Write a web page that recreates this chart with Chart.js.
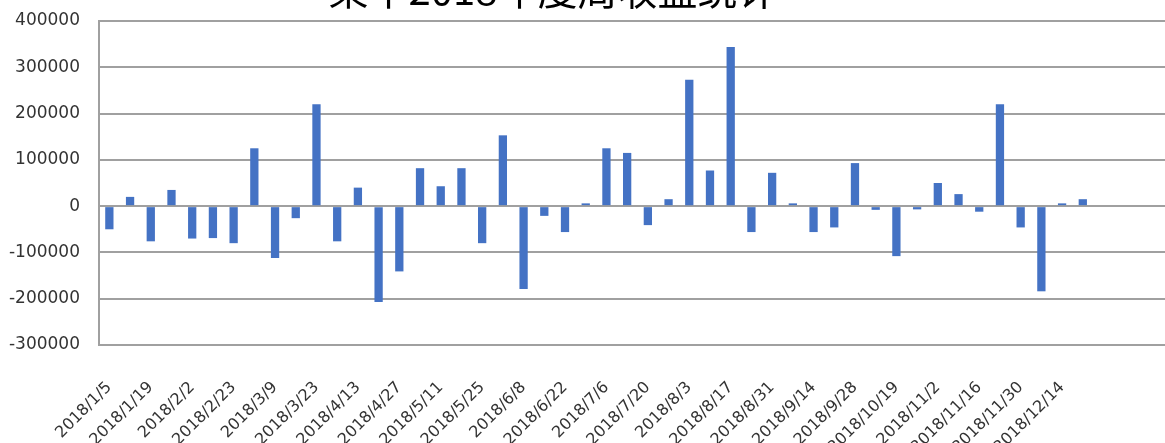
<!DOCTYPE html>
<html>
<head>
<meta charset="utf-8">
<script src="https://cdn.jsdelivr.net/npm/chart.js@4"></script>
<style>
  html, body { margin: 0; padding: 0; background: #fff; overflow: hidden; }
  #wrap { position: relative; width: 1176px; height: 443px; }
</style>
</head>
<body>
<div id="wrap"><canvas id="weeklyChart"></canvas></div>
<script>
// 周收益数据 (2018)
const weeks = [
    "2018/1/5", "2018/1/12", "2018/1/19", "2018/1/26", "2018/2/2", "2018/2/9",
    "2018/2/23", "2018/3/2", "2018/3/9", "2018/3/16", "2018/3/23", "2018/3/30",
    "2018/4/13", "2018/4/20", "2018/4/27", "2018/5/4", "2018/5/11", "2018/5/18",
    "2018/5/25", "2018/6/1", "2018/6/8", "2018/6/15", "2018/6/22", "2018/6/29",
    "2018/7/6", "2018/7/13", "2018/7/20", "2018/7/27", "2018/8/3", "2018/8/10",
    "2018/8/17", "2018/8/24", "2018/8/31", "2018/9/7", "2018/9/14", "2018/9/21",
    "2018/9/28", "2018/10/12", "2018/10/19", "2018/10/26", "2018/11/2", "2018/11/9",
    "2018/11/16", "2018/11/23", "2018/11/30", "2018/12/7", "2018/12/14", "2018/12/21",
    "", "", "", ""
];
const weeklyProfit = [
    -50000, 20000, -76000, 35000, -70000, -69000,
    -80000, 125000, -112000, -26000, 220000, -76000,
    40000, -207000, -141000, 82000, 43000, 82000,
    -80000, 153000, -179000, -21000, -56000, 6000,
    125000, 115000, -41000, 15000, 273000, 77000,
    344000, -56000, 72000, 6000, -56000, -46000,
    93000, -8000, -108000, -7000, 50000, 26000,
    -12000, 220000, -46000, -184000, 6000, 15000,
    null, null, null, null
];
const yTicks = [-300000, -200000, -100000, 0, 100000, 200000, 300000, 400000];
const chartTitle = "某甲2018年度周收益统计";

// titre coupé en haut, comme dans l'image
const titlePlugin = {
    id: "cutTitle",
    afterDraw(chart) {
        const ctx = chart.ctx;
        ctx.save();
        ctx.font = '40px "Noto Sans CJK SC"';
        ctx.fillStyle = "#000";
        ctx.textAlign = "center";
        ctx.textBaseline = "alphabetic";
        ctx.fillText(chartTitle, 553, 5);
        ctx.restore();
    }
};

// pas de marge automatique autour des axes
function noPadding(scale) {
    scale.paddingLeft = 0;
    scale.paddingRight = 0;
    scale.paddingTop = 0;
    scale.paddingBottom = 0;
}

const ctx = document.getElementById("weeklyChart").getContext("2d");
new Chart(ctx, {
    type: "bar",
    data: {
        labels: weeks,
        datasets: [{
            label: "周收益",
            data: weeklyProfit,
            backgroundColor: "#4472C4",
            barPercentage: 0.4,
            categoryPercentage: 1.0,
        }],
    },
    options: {
        responsive: true,
        maintainAspectRatio: false,
        animation: false,
        layout: { padding: { top: 21, left: 0, right: 0, bottom: 0 } },
        plugins: {
            legend: { display: false },
            tooltip: { enabled: false },
        },
        scales: {
            x: {
                grid: { display: false, drawTicks: false },
                border: { display: false },
                afterFit(scale) { scale.height = 98; noPadding(scale); },
                ticks: {
                    autoSkip: false,
                    maxRotation: 45,
                    minRotation: 45,
                    padding: 33,
                    color: "#333",
                    font: { family: "DejaVu Sans", size: 16 },
                    callback: function (value, index) {
                        return index % 2 === 0 ? this.getLabelForValue(value) : "";
                    },
                },
            },
            y: {
                min: -300000,
                max: 400000,
                afterBuildTicks(scale) { scale.ticks = yTicks.map(v => ({ value: v })); },
                afterFit(scale) { scale.width = 99; noPadding(scale); },
                grid: { color: "#a0a0a0", lineWidth: 2, drawTicks: false },
                border: { display: true, color: "#a0a0a0", width: 2 },
                ticks: {
                    padding: 19,
                    color: "#333",
                    font: { family: "DejaVu Sans", size: 17 },
                    callback: v => String(v),
                },
            },
        },
    },
    plugins: [titlePlugin],
});
</script>
</body>
</html>
